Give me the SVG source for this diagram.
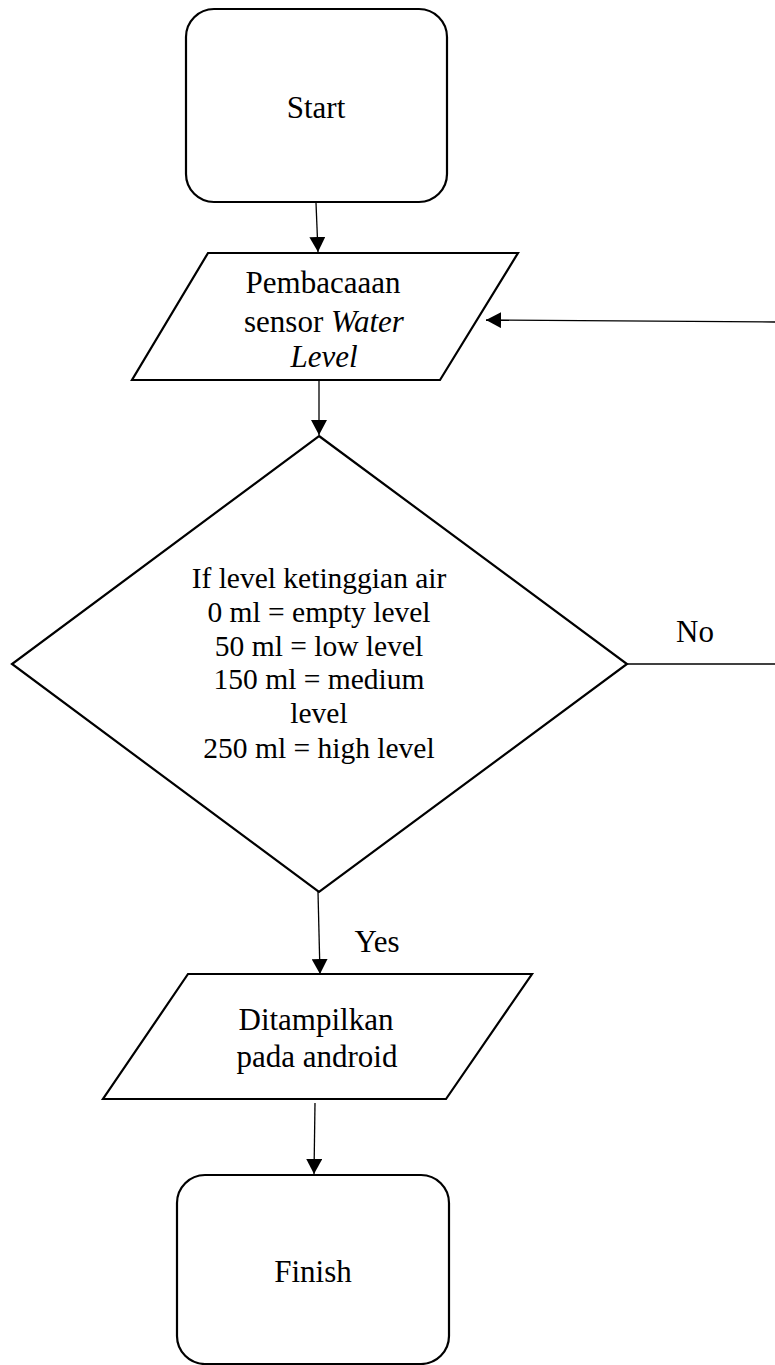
<svg xmlns="http://www.w3.org/2000/svg" width="775" height="1365" viewBox="0 0 775 1365">
<defs>
<marker id="arr" markerUnits="userSpaceOnUse" markerWidth="16" markerHeight="16" viewBox="0 0 16 16" refX="15" refY="8" orient="auto">
<path d="M0,0 L15,8 L0,16 Z" fill="#000"/>
</marker>
</defs>
<style>
.shape{fill:#fff;stroke:#000;stroke-width:2.2}
.conn{stroke:#000;stroke-width:1.3;fill:none}
</style>
<rect width="775" height="1365" fill="#fff"/>
<g id="connectors">
<line class="conn" x1="316" y1="203" x2="318" y2="252" marker-end="url(#arr)"/>
<line class="conn" x1="319" y1="381" x2="319" y2="435" marker-end="url(#arr)"/>
<line class="conn" x1="775" y1="322" x2="486" y2="320" marker-end="url(#arr)"/>
<line class="conn" x1="627" y1="664" x2="775" y2="664"/>
<line class="conn" x1="318" y1="892" x2="320" y2="974" marker-end="url(#arr)"/>
<line class="conn" x1="315" y1="1103" x2="314" y2="1174" marker-end="url(#arr)"/>
<g font-family="Liberation Serif" font-size="31" text-anchor="middle">
<text x="695" y="642">No</text>
<text x="377" y="952">Yes</text>
</g>
</g>
<g id="start" font-family="Liberation Serif" font-size="31" text-anchor="middle">
<rect class="shape" x="186" y="9" width="261" height="193" rx="28" ry="28"/>
<text x="316" y="118">Start</text>
</g>
<g id="read-sensor" font-family="Liberation Serif" font-size="31" text-anchor="middle">
<polygon class="shape" points="208,253 518,253 440,380 132,380"/>
<text x="323" y="293">Pembacaaan</text>
<text x="324" y="332">sensor <tspan font-style="italic">Water</tspan></text>
<text x="324" y="367" font-style="italic">Level</text>
</g>
<g id="decision" font-family="Liberation Serif" font-size="29.5" text-anchor="middle">
<polygon class="shape" points="319,436 627,664 319,892 12,664"/>
<text x="319" y="588">If level ketinggian air</text>
<text x="319" y="622">0 ml = empty level</text>
<text x="319" y="656">50 ml = low level</text>
<text x="319" y="689">150 ml = medium</text>
<text x="319" y="723">level</text>
<text x="319" y="758">250 ml = high level</text>
</g>
<g id="display" font-family="Liberation Serif" font-size="31" text-anchor="middle">
<polygon class="shape" points="188,974 532,974 446,1099 103,1099"/>
<text x="316" y="1030">Ditampilkan</text>
<text x="317" y="1067">pada android</text>
</g>
<g id="finish" font-family="Liberation Serif" font-size="31" text-anchor="middle">
<rect class="shape" x="177" y="1175" width="272" height="189" rx="28" ry="28"/>
<text x="313" y="1282">Finish</text>
</g>
</svg>
